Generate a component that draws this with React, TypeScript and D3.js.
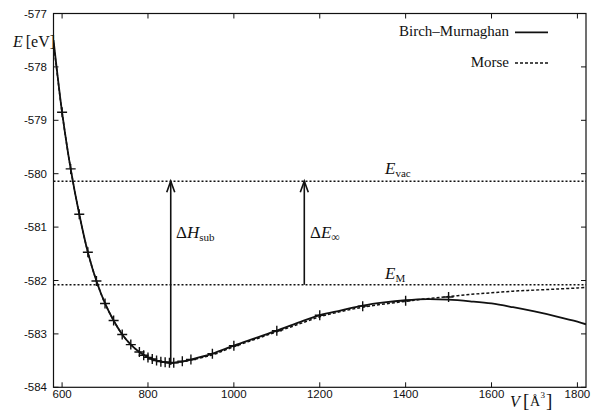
import React from "react";
import * as d3 from "d3";

// Birch–Murnaghan fit (V in Å^3, E in eV)
const bmV = [580, 590, 600, 620, 640, 660, 680, 700, 720, 740, 760, 780, 800, 820, 840, 853, 870, 900, 950, 1000, 1050, 1100, 1150, 1200, 1250, 1300, 1350, 1400, 1450, 1500, 1550, 1600, 1650, 1700, 1750, 1800, 1820];
const bmE = [-577.5, -578.2, -578.85, -579.91, -580.76, -581.47, -582.01, -582.43, -582.75, -583.01, -583.2, -583.34, -583.44, -583.5, -583.53, -583.54, -583.53, -583.48, -583.37, -583.22, -583.08, -582.94, -582.79, -582.65, -582.56, -582.47, -582.41, -582.37, -582.35, -582.36, -582.39, -582.43, -582.5, -582.58, -582.67, -582.77, -582.82];

// Morse fit
const morseV = [580, 590, 600, 620, 640, 660, 680, 700, 720, 740, 760, 780, 800, 820, 840, 853, 870, 900, 950, 1000, 1050, 1100, 1150, 1200, 1250, 1300, 1350, 1400, 1450, 1500, 1550, 1600, 1650, 1700, 1750, 1800, 1820];
const morseE = [-577.55, -578.22, -578.86, -579.91, -580.76, -581.47, -582.01, -582.43, -582.75, -583.01, -583.2, -583.34, -583.44, -583.5, -583.53, -583.54, -583.53, -583.49, -583.39, -583.24, -583.1, -582.96, -582.82, -582.68, -582.58, -582.5, -582.44, -582.39, -582.34, -582.3, -582.26, -582.23, -582.2, -582.18, -582.16, -582.14, -582.13];

// DFT data points
const ptV = [600, 620, 640, 660, 680, 700, 720, 740, 760, 780, 790, 800, 810, 820, 830, 840, 850, 860, 880, 900, 950, 1000, 1100, 1200, 1300, 1400, 1500];
const ptE = [-578.85, -579.91, -580.76, -581.47, -582.01, -582.43, -582.75, -583.01, -583.2, -583.34, -583.4, -583.44, -583.47, -583.5, -583.52, -583.53, -583.54, -583.54, -583.51, -583.48, -583.37, -583.22, -582.94, -582.65, -582.48, -582.38, -582.31];

const xTicks = [600, 800, 1000, 1200, 1400, 1600, 1800];
const yTicks = [-584, -583, -582, -581, -580, -579, -578, -577];

const eVac = -580.14;
const eM = -582.08;
const vMin = 853;
const eMinArrow = -583.58;
const vInf = 1164;

const W = 593;
const H = 414;
const L = 53.5, R = 586, T = 13.5, B = 387.3;

export default function App() {
  const x = d3.scaleLinear().domain([580, 1820]).range([L, R]);
  const y = d3.scaleLinear().domain([-584, -577]).range([B, T]);

  const line = d3
    .line<[number, number]>()
    .x((d) => x(d[0]))
    .y((d) => y(d[1]))
    .curve(d3.curveCatmullRom.alpha(0.5));

  const bmPath = line(bmV.map((v, i) => [v, bmE[i]] as [number, number])) || "";
  const morsePath = line(morseV.map((v, i) => [v, morseE[i]] as [number, number])) || "";

  const sans = "'Liberation Sans', Arial, sans-serif";
  const serif = "'Liberation Serif', 'DejaVu Serif', serif";
  const ink = "#111";

  const arrow = (xv: number, y0: number, y1: number) => {
    const px = x(xv);
    const top = y(y1);
    return (
      <g stroke={ink} strokeWidth={1.6} fill="none">
        <line x1={px} x2={px} y1={y(y0)} y2={top} />
        <path d={`M${px - 4},${top + 11}L${px},${top}L${px + 4},${top + 11}`} />
      </g>
    );
  };

  return (
    <svg width={W} height={H} style={{ position: "absolute", left: 0, top: 0, background: "#fff" }}>
      <defs>
        <clipPath id="plot">
          <rect x={L} y={T} width={R - L} height={B - T} />
        </clipPath>
      </defs>
      <rect width={W} height={H} fill="#fff" />

      {/* ticks */}
      <g stroke={ink} strokeWidth={1}>
        {xTicks.map((t) => (
          <g key={"xt" + t}>
            <line x1={x(t)} x2={x(t)} y1={B} y2={B - 5} />
            <line x1={x(t)} x2={x(t)} y1={T} y2={T + 5} />
          </g>
        ))}
        {yTicks.map((t) => (
          <g key={"yt" + t}>
            <line x1={L} x2={L + 5} y1={y(t)} y2={y(t)} />
            <line x1={R} x2={R - 5} y1={y(t)} y2={y(t)} />
          </g>
        ))}
      </g>

      {/* tick labels */}
      <g fontFamily={sans} fontSize={11.5} fill={ink}>
        {xTicks.map((t) => (
          <text key={"xl" + t} x={x(t)} y={398} textAnchor="middle">
            {t}
          </text>
        ))}
        {yTicks.map((t) => (
          <text key={"yl" + t} x={47} y={y(t) + 4} textAnchor="end">
            {t}
          </text>
        ))}
      </g>

      {/* reference levels */}
      <g stroke={ink} strokeWidth={1.6} strokeDasharray="2,2">
        <line x1={L} x2={R} y1={y(eVac)} y2={y(eVac)} />
        <line x1={L} x2={R} y1={y(eM)} y2={y(eM)} />
      </g>

      {/* arrows */}
      {arrow(vMin, eMinArrow, eVac)}
      {arrow(vInf, eM, eVac)}

      {/* curves */}
      <g clipPath="url(#plot)" fill="none">
        <path d={morsePath} stroke={ink} strokeWidth={1.5} strokeDasharray="3,2" />
        <path d={bmPath} stroke={ink} strokeWidth={1.8} />
        <g stroke={ink} strokeWidth={1.4}>
          {ptV.map((v, i) => (
            <path
              key={"p" + v}
              d={`M${x(v) - 5},${y(ptE[i])}H${x(v) + 5}M${x(v)},${y(ptE[i]) - 5}V${y(ptE[i]) + 5}`}
            />
          ))}
        </g>
      </g>

      {/* frame */}
      <rect x={L} y={T} width={R - L} height={B - T} fill="none" stroke={ink} strokeWidth={1.2} />

      {/* legend */}
      <g fontFamily={serif} fontSize={15} fill={ink}>
        <text x={509} y={36} textAnchor="end">Birch–Murnaghan</text>
        <text x={509} y={66.5} textAnchor="end">Morse</text>
      </g>
      <line x1={515} x2={548} y1={32.3} y2={32.3} stroke={ink} strokeWidth={1.8} />
      <line x1={515} x2={548} y1={63} y2={63} stroke={ink} strokeWidth={1.5} strokeDasharray="3,2" />

      {/* annotation labels */}
      <g fontFamily={serif} fontSize={17} fill={ink}>
        <text x={385} y={173.5}>
          <tspan fontStyle="italic">E</tspan>
          <tspan fontSize={11} dy={3}>vac</tspan>
        </text>
        <text x={385} y={278.5}>
          <tspan fontStyle="italic">E</tspan>
          <tspan fontSize={11} dy={3}>M</tspan>
        </text>
        <text x={176} y={238}>
          <tspan>Δ</tspan>
          <tspan fontStyle="italic">H</tspan>
          <tspan fontSize={11} dy={3}>sub</tspan>
        </text>
        <text x={310} y={238}>
          <tspan>Δ</tspan>
          <tspan fontStyle="italic">E</tspan>
          <tspan fontSize={12} dy={3}>∞</tspan>
        </text>
      </g>

      {/* axis titles */}
      <g fontFamily={serif} fill={ink}>
        <text x={13} y={46.5} fontSize={16}>
          <tspan fontStyle="italic">E</tspan>
          <tspan dx={3}>[eV]</tspan>
        </text>
        <text x={510} y={407} fontSize={16}>
          <tspan fontStyle="italic">V</tspan>
        </text>
        <text x={523} y={407} fontSize={19}>[</text>
        <text x={530} y={406} fontSize={14}>Å</text>
        <text x={540.5} y={398} fontSize={9}>3</text>
        <text x={546} y={407} fontSize={19}>]</text>
      </g>
    </svg>
  );
}
